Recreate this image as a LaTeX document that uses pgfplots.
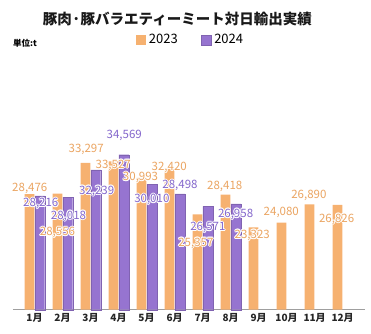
\documentclass[border=0pt]{standalone}
\usepackage{fontspec}
\setmainfont{Noto Sans CJK JP}
\usepackage{pgfplots}
\usepackage{pgfplotstable}
\pgfplotsset{compat=1.18}
\definecolor{or}{HTML}{F6B170}
\definecolor{ortext}{HTML}{EBA562}
\definecolor{pu}{HTML}{9674D0}
\definecolor{putext}{HTML}{8467CC}

\newcommand\halo[1]{\begingroup\setbox0\hbox{#1}%
  \def\hc##1##2{\rlap{\kern##1\raisebox{##2}{\color{white}\copy0}}}%
  \hc{1pt}{0pt}\hc{-1pt}{0pt}\hc{0pt}{1pt}\hc{0pt}{-1pt}%
  \hc{0.7pt}{0.7pt}\hc{-0.7pt}{0.7pt}\hc{0.7pt}{-0.7pt}\hc{-0.7pt}{-0.7pt}%
  \box0\endgroup}

% bar values (t)
\pgfplotstableread{
x y
0 28476
1 28556
2 33297
3 33527
4 30993
5 32420
6 25357
7 28418
8 23323
9 24080
10 26890
11 26826
}\dataA
\pgfplotstableread{
x y
0 28216
1 28018
2 32239
3 34569
4 30010
5 28498
6 26571
7 26958
}\dataB
% label positions (as drawn in the reference)
\pgfplotstableread{
x y l
-0.168 18781 28,476
0.821 11896 28,556
1.846 24737 33,297
2.811 22385 33,527
3.786 20420 30,993
4.811 21998 32,420
5.761 10318 25,357
6.793 19136 28,418
7.775 11510 23,323
8.811 15037 24,080
9.796 17620 26,890
10.786 14031 26,826
}\labA
\pgfplotstableread{
x y l
0.225 16383 28,216
1.214 14464 28,018
2.221 18363 32,239
3.204 26902 34,569
4.189 17017 30,010
5.196 19167 28,498
6.189 12670 26,571
7.179 14727 26,958
}\labB

\begin{document}
\begin{tikzpicture}
\begin{axis}[
  scale only axis, width=352pt, height=254.7pt,
  xmin=-0.768, xmax=11.80, ymin=0, ymax=39400,
  axis x line=bottom, axis y line=none,
  axis line style={draw=gray!75, line width=1.1pt, -},
  xtick={0,...,11},
  xticklabels={1月,2月,3月,4月,5月,6月,7月,8月,9月,10月,11月,12月},
  major tick length=0pt,
  xticklabel style={font=\bfseries\fontsize{10}{10}\selectfont, text=black!85},
  clip=false,
  legend style={at={(0.503,1.06)}, anchor=center, draw=none, fill=none,
    legend columns=2, font=\fontsize{13}{13}\selectfont,
    /tikz/every odd column/.append style={column sep=2pt},
    /tikz/every even column/.append style={column sep=22pt},
    nodes={inner sep=1pt}},
  legend image code/.code={\fill[#1] (0pt,-5pt) rectangle (10pt,5pt);},
]
\addplot[ybar, bar width=0.35, bar shift=-0.18, fill=or, draw=none]
  table[x=x, y expr=\thisrow{y}-10600] {\dataA};
\addlegendentry{2023}
\addplot[ybar, bar width=0.35, bar shift=0.19, fill=pu, draw=pu!85!black, line width=0.4pt]
  table[x=x, y expr=\thisrow{y}-10600] {\dataB};
\addlegendentry{2024}

\addplot[forget plot, draw=none, mark=none, nodes near coords={\halo{\pgfplotspointmeta}}, point meta=explicit symbolic,
  every node near coord/.style={anchor=center, text=ortext, inner sep=0pt, font=\fontsize{11.5}{11.5}\selectfont}]
  table[x=x, y=y, meta=l] {\labA};
\addplot[forget plot, draw=none, mark=none, nodes near coords={\halo{\pgfplotspointmeta}}, point meta=explicit symbolic,
  every node near coord/.style={anchor=center, text=putext, inner sep=0pt, font=\fontsize{11.5}{11.5}\selectfont}]
  table[x=x, y=y, meta=l] {\labB};

\node[font=\bfseries\fontsize{14.5}{14.5}\selectfont, text=black!90] at (rel axis cs:0.467,1.143) {豚肉·豚バラエティーミート対日輸出実績};
\node[anchor=west, inner sep=0pt, font=\bfseries\fontsize{8.5}{8.5}\selectfont] at (rel axis cs:0,1.048) {単位:t};
\path (rel axis cs:-0.0369,-0.0954) rectangle (rel axis cs:1.0170,1.2159);
\end{axis}
\end{tikzpicture}
\end{document}
